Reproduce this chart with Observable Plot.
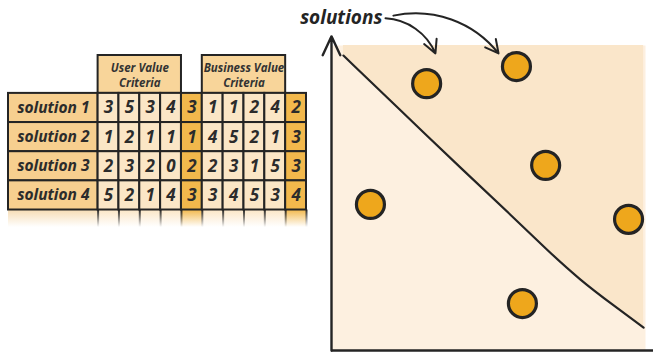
<!DOCTYPE html>
<html>
<head>
<meta charset="utf-8">
<script src="https://cdn.jsdelivr.net/npm/d3@7"></script>
<script src="https://cdn.jsdelivr.net/npm/@observablehq/plot@0.6"></script>
<style>
  html, body { margin: 0; padding: 0; background: #ffffff; }
  #wrap { position: relative; width: 653px; height: 353px; overflow: hidden; }
  #wrap svg { position: absolute; left: 0; top: 0; overflow: visible; max-width: none; }
</style>
</head>
<body>
<div id="wrap"></div>
<script>
// ---------- table data ----------
const solutions = ["solution 1", "solution 2", "solution 3", "solution 4"];
const userScores = [[3, 5, 3, 4], [1, 2, 1, 1], [2, 3, 2, 0], [5, 2, 1, 4]];
const userTotals = [3, 1, 2, 3];
const businessScores = [[1, 1, 2, 4], [4, 5, 2, 1], [2, 3, 1, 5], [3, 4, 5, 3]];
const businessTotals = [2, 3, 3, 4];
const groupLabels = ["User Value\nCriteria", "Business Value\nCriteria"];

// ---------- chart data ----------
const pointX = [3.03, 5.89, 6.82, 9.46, 1.24, 6.08];
const pointY = [8.75, 9.31, 6.07, 4.30, 4.79, 1.54];
const boundaryX = [0.38, 2.10, 4.20, 5.80, 6.88, 7.93, 8.98, 9.94];
const boundaryY = [9.67, 7.97, 5.90, 4.36, 3.28, 2.30, 1.48, 0.75];
const annotationText = "solutions";
const annotationAnchor = [1.62, 10.92];
const annotationStartX = [1.72, 1.97];
const annotationStartY = [10.89, 10.98];
const annotationEndX = [3.31, 5.32];
const annotationEndY = [9.74, 9.74];
const xDomain = [0, 10];
const yDomain = [0, 10];

// ---------- colours ----------
const INK = "#242424";
const C_LABEL = "#f7cf8f";
const C_CELL = "#fbe6c6";
const C_TOTAL = "#f2b84c";
const C_HEAD = "#f8d59a";
const C_BG = "#fdf0e0";
const C_BG2 = "#fae6ca";
const C_DOT = "#eea71c";
const FONT = "'Open Sans', 'Noto Sans', sans-serif";

const wrap = document.getElementById("wrap");

// =============== CHART ===============
const points = pointX.map((x, i) => ({x, y: pointY[i]}));
const boundary = boundaryX.map((x, i) => ({x, y: boundaryY[i]}));
const arrows = annotationStartX.map((x1, i) => ({
  x1, y1: annotationStartY[i], x2: annotationEndX[i], y2: annotationEndY[i]
}));
const over = 0.3;

const chart = Plot.plot({
  width: 653,
  height: 353,
  marginLeft: 331,
  marginRight: 8,
  marginTop: 45,
  marginBottom: 3,
  x: {domain: xDomain, axis: null},
  y: {domain: yDomain, axis: null},
  style: {background: "transparent", fontFamily: FONT, overflow: "visible"},
  marks: [
    Plot.frame({fill: C_BG, stroke: "none"}),
    Plot.areaY(boundary, {x: "x", y1: "y", y2: () => yDomain[1], fill: C_BG2, curve: "basis"}),
    Plot.line(boundary, {x: "x", y: "y", stroke: INK, strokeWidth: 2.2, curve: "basis"}),
    Plot.ruleY([yDomain[0]], {x1: xDomain[0], x2: xDomain[1] + over, stroke: INK, strokeWidth: 2.4}),
    Plot.arrow([0], {x1: xDomain[0], y1: yDomain[0], x2: xDomain[0], y2: yDomain[1] + over,
      stroke: INK, strokeWidth: 2.4, headLength: 13, headAngle: 50}),
    Plot.dot(points, {x: "x", y: "y", r: 14, fill: C_DOT, stroke: INK, strokeWidth: 3.2}),
    Plot.arrow(arrows, {x1: "x1", y1: "y1", x2: "x2", y2: "y2", bend: 32,
      stroke: INK, strokeWidth: 2, headLength: 11, headAngle: 55}),
    Plot.text([annotationText], {x: annotationAnchor[0], y: annotationAnchor[1], text: d => d,
      textAnchor: "end", fontSize: 19, fontWeight: 700, fontStyle: "italic", fill: INK})
  ]
});
wrap.appendChild(chart);

// =============== TABLE ===============
const labelUnits = 4.3;
const nCols = 10;
const kinds = ["u", "u", "u", "u", "ut", "b", "b", "b", "b", "bt"];
const cells = [];
solutions.forEach((s, r) => {
  const vals = [...userScores[r], userTotals[r], ...businessScores[r], businessTotals[r]];
  vals.forEach((v, c) => cells.push({r, c, v, kind: kinds[c]}));
});
const labels = solutions.map((s, r) => ({r, s}));
const fadeCols = kinds.map((k, c) => ({c, kind: k}));
const heads = groupLabels.map((t, i) => ({i, t, c0: i === 0 ? 0 : 5, c1: i === 0 ? 4 : 9}));
const fadeBottom = solutions.length + 0.6;
const headTop = -1.3;
const boundaries = d3.range(0, nCols + 1).map(c => labelUnits + c);

const table = Plot.plot({
  width: 310,
  height: 235,
  marginLeft: 8,
  marginRight: 4,
  marginTop: 55,
  marginBottom: 8,
  x: {domain: [0, labelUnits + nCols], axis: null},
  y: {domain: [headTop, fadeBottom], reverse: true, axis: null},
  style: {background: "transparent", fontFamily: FONT, overflow: "visible"},
  marks: [
    // header boxes
    Plot.rect(heads, {x1: d => labelUnits + d.c0, x2: d => labelUnits + d.c1, y1: headTop, y2: 0,
      fill: C_HEAD, stroke: INK, strokeWidth: 2}),
    Plot.text(heads, {x: d => labelUnits + (d.c0 + d.c1) / 2, y: headTop / 2, text: "t",
      fontSize: 11.5, fontWeight: 700, fontStyle: "italic", fill: "#333", lineHeight: 1.35}),
    // faded bottom row
    Plot.rect([0], {x1: 0, x2: labelUnits, y1: solutions.length, y2: fadeBottom, fill: "url(#fadeLabel)"}),
    Plot.rect(fadeCols, {x1: d => labelUnits + d.c, x2: d => labelUnits + d.c + 1, y1: solutions.length, y2: fadeBottom,
      fill: d => d.kind.endsWith("t") ? "url(#fadeDark)" : "url(#fadeCell)"}),
    Plot.ruleX(boundaries, {y1: solutions.length, y2: fadeBottom, stroke: "url(#fadeLine)", strokeWidth: 2}),
    // label cells
    Plot.rect(labels, {x1: 0, x2: labelUnits, y1: "r", y2: d => d.r + 1, fill: C_LABEL, stroke: INK, strokeWidth: 2}),
    Plot.text(labels, {x: labelUnits / 2, y: d => d.r + 0.5, text: "s", fontSize: 15.5, fontWeight: 700,
      fontStyle: "italic", fill: "#2b2b2b"}),
    // value cells
    Plot.rect(cells, {x1: d => labelUnits + d.c, x2: d => labelUnits + d.c + 1, y1: "r", y2: d => d.r + 1,
      fill: d => d.kind.endsWith("t") ? C_TOTAL : C_CELL, stroke: INK, strokeWidth: 2}),
    Plot.text(cells, {x: d => labelUnits + d.c + 0.5, y: d => d.r + 0.5, text: "v", fontSize: 17,
      fontWeight: 700, fontStyle: "italic", fill: "#2b2b2b"})
  ]
});
wrap.appendChild(table);

// gradients for the fading last row
const ys = table.scale("y");
const gy0 = ys.apply(solutions.length), gy1 = ys.apply(fadeBottom);
const defs = d3.select(table).insert("defs", ":first-child");
[["fadeLabel", "#f6dcb4"], ["fadeCell", C_CELL], ["fadeDark", C_TOTAL], ["fadeLine", INK]].forEach(([id, col]) => {
  const g = defs.append("linearGradient").attr("id", id).attr("gradientUnits", "userSpaceOnUse")
    .attr("x1", 0).attr("x2", 0).attr("y1", gy0).attr("y2", gy1);
  g.append("stop").attr("offset", 0).attr("stop-color", col).attr("stop-opacity", 1);
  g.append("stop").attr("offset", 1).attr("stop-color", col).attr("stop-opacity", 0);
});
</script>
</body>
</html>
